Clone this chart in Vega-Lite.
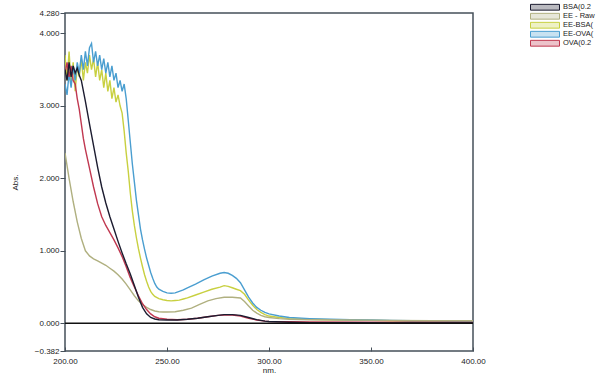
{
  "$schema": "https://vega.github.io/schema/vega-lite/v6.json",
  "width": 408,
  "height": 338,
  "autosize": {"type": "none"},
  "padding": {"left": 65, "top": 13, "right": 127, "bottom": 28},
  "background": "white",
  "config": {
    "view": {"stroke": "#46505a", "strokeWidth": 1.5},
    "font": "Liberation Sans",
    "axis": {"labelFont": "Liberation Sans", "titleFont": "Liberation Sans", "labelFontSize": 8, "titleFontSize": 8, "labelColor": "#222", "titleColor": "#222", "grid": false, "domain": false, "tickColor": "#46505a", "titleFontWeight": "normal"},
    "legend": {"labelFont": "Liberation Sans", "labelFontSize": 7.5, "labelColor": "#222"}
  },
  "datasets": {
    "spectra": [
      {"s":"EE-BSA","x":200,"y":3.7},{"s":"EE-BSA","x":201,"y":3.35},{"s":"EE-BSA","x":202,"y":3.75},{"s":"EE-BSA","x":203,"y":3.3},{"s":"EE-BSA","x":204,"y":3.6},{"s":"EE-BSA","x":205,"y":3.2},{"s":"EE-BSA","x":206,"y":3.55},{"s":"EE-BSA","x":207,"y":3.4},{"s":"EE-BSA","x":208,"y":3.65},{"s":"EE-BSA","x":209,"y":3.35},{"s":"EE-BSA","x":210,"y":3.6},{"s":"EE-BSA","x":211,"y":3.45},{"s":"EE-BSA","x":212,"y":3.7},{"s":"EE-BSA","x":213,"y":3.5},{"s":"EE-BSA","x":214,"y":3.65},{"s":"EE-BSA","x":215,"y":3.4},{"s":"EE-BSA","x":216,"y":3.6},{"s":"EE-BSA","x":217,"y":3.35},{"s":"EE-BSA","x":218,"y":3.5},{"s":"EE-BSA","x":219,"y":3.25},{"s":"EE-BSA","x":220,"y":3.45},{"s":"EE-BSA","x":221,"y":3.2},{"s":"EE-BSA","x":222,"y":3.35},{"s":"EE-BSA","x":223,"y":3.1},{"s":"EE-BSA","x":224,"y":3.25},{"s":"EE-BSA","x":225,"y":3.05},{"s":"EE-BSA","x":226,"y":3.15},{"s":"EE-BSA","x":227,"y":3.0},{"s":"EE-BSA","x":228,"y":2.9},{"s":"EE-BSA","x":229,"y":2.65},{"s":"EE-BSA","x":230,"y":2.35},{"s":"EE-BSA","x":231,"y":2.1},{"s":"EE-BSA","x":232,"y":1.8},{"s":"EE-BSA","x":233,"y":1.55},{"s":"EE-BSA","x":234,"y":1.35},{"s":"EE-BSA","x":235,"y":1.18},{"s":"EE-BSA","x":236,"y":1.03},{"s":"EE-BSA","x":237,"y":0.9},{"s":"EE-BSA","x":238,"y":0.78},{"s":"EE-BSA","x":239,"y":0.67},{"s":"EE-BSA","x":240,"y":0.58},{"s":"EE-BSA","x":241,"y":0.5},{"s":"EE-BSA","x":242,"y":0.44},{"s":"EE-BSA","x":243,"y":0.4},{"s":"EE-BSA","x":244,"y":0.37},{"s":"EE-BSA","x":246,"y":0.34},{"s":"EE-BSA","x":248,"y":0.325},{"s":"EE-BSA","x":250,"y":0.315},{"s":"EE-BSA","x":252,"y":0.31},{"s":"EE-BSA","x":254,"y":0.315},{"s":"EE-BSA","x":256,"y":0.32},{"s":"EE-BSA","x":258,"y":0.335},{"s":"EE-BSA","x":260,"y":0.35},{"s":"EE-BSA","x":264,"y":0.39},{"s":"EE-BSA","x":268,"y":0.43},{"s":"EE-BSA","x":272,"y":0.47},{"s":"EE-BSA","x":276,"y":0.5},{"s":"EE-BSA","x":278,"y":0.52},{"s":"EE-BSA","x":280,"y":0.51},{"s":"EE-BSA","x":282,"y":0.49},{"s":"EE-BSA","x":284,"y":0.47},{"s":"EE-BSA","x":286,"y":0.45},{"s":"EE-BSA","x":288,"y":0.4},{"s":"EE-BSA","x":290,"y":0.32},{"s":"EE-BSA","x":292,"y":0.25},{"s":"EE-BSA","x":294,"y":0.19},{"s":"EE-BSA","x":296,"y":0.15},{"s":"EE-BSA","x":298,"y":0.12},{"s":"EE-BSA","x":300,"y":0.1},{"s":"EE-BSA","x":305,"y":0.08},{"s":"EE-BSA","x":310,"y":0.065},{"s":"EE-BSA","x":320,"y":0.055},{"s":"EE-BSA","x":330,"y":0.05},{"s":"EE-BSA","x":340,"y":0.045},{"s":"EE-BSA","x":350,"y":0.04},{"s":"EE-BSA","x":360,"y":0.035},{"s":"EE-BSA","x":370,"y":0.032},{"s":"EE-BSA","x":380,"y":0.03},{"s":"EE-BSA","x":390,"y":0.028},{"s":"EE-BSA","x":400,"y":0.025},

      {"s":"EE-OVA","x":200,"y":3.3},{"s":"EE-OVA","x":201,"y":3.15},{"s":"EE-OVA","x":202,"y":3.45},{"s":"EE-OVA","x":203,"y":3.25},{"s":"EE-OVA","x":204,"y":3.55},{"s":"EE-OVA","x":205,"y":3.35},{"s":"EE-OVA","x":206,"y":3.6},{"s":"EE-OVA","x":207,"y":3.45},{"s":"EE-OVA","x":208,"y":3.7},{"s":"EE-OVA","x":209,"y":3.5},{"s":"EE-OVA","x":210,"y":3.75},{"s":"EE-OVA","x":211,"y":3.55},{"s":"EE-OVA","x":212,"y":3.8},{"s":"EE-OVA","x":213,"y":3.86},{"s":"EE-OVA","x":214,"y":3.6},{"s":"EE-OVA","x":215,"y":3.75},{"s":"EE-OVA","x":216,"y":3.55},{"s":"EE-OVA","x":217,"y":3.7},{"s":"EE-OVA","x":218,"y":3.5},{"s":"EE-OVA","x":219,"y":3.65},{"s":"EE-OVA","x":220,"y":3.45},{"s":"EE-OVA","x":221,"y":3.6},{"s":"EE-OVA","x":222,"y":3.4},{"s":"EE-OVA","x":223,"y":3.55},{"s":"EE-OVA","x":224,"y":3.35},{"s":"EE-OVA","x":225,"y":3.45},{"s":"EE-OVA","x":226,"y":3.25},{"s":"EE-OVA","x":227,"y":3.35},{"s":"EE-OVA","x":228,"y":3.2},{"s":"EE-OVA","x":229,"y":3.3},{"s":"EE-OVA","x":230,"y":3.1},{"s":"EE-OVA","x":231,"y":2.8},{"s":"EE-OVA","x":232,"y":2.5},{"s":"EE-OVA","x":233,"y":2.2},{"s":"EE-OVA","x":234,"y":1.95},{"s":"EE-OVA","x":235,"y":1.7},{"s":"EE-OVA","x":236,"y":1.5},{"s":"EE-OVA","x":237,"y":1.3},{"s":"EE-OVA","x":238,"y":1.15},{"s":"EE-OVA","x":239,"y":1.02},{"s":"EE-OVA","x":240,"y":0.9},{"s":"EE-OVA","x":241,"y":0.8},{"s":"EE-OVA","x":242,"y":0.7},{"s":"EE-OVA","x":243,"y":0.62},{"s":"EE-OVA","x":244,"y":0.55},{"s":"EE-OVA","x":245,"y":0.5},{"s":"EE-OVA","x":246,"y":0.47},{"s":"EE-OVA","x":248,"y":0.44},{"s":"EE-OVA","x":250,"y":0.42},{"s":"EE-OVA","x":252,"y":0.415},{"s":"EE-OVA","x":254,"y":0.42},{"s":"EE-OVA","x":256,"y":0.44},{"s":"EE-OVA","x":258,"y":0.46},{"s":"EE-OVA","x":260,"y":0.49},{"s":"EE-OVA","x":264,"y":0.54},{"s":"EE-OVA","x":268,"y":0.6},{"s":"EE-OVA","x":272,"y":0.65},{"s":"EE-OVA","x":276,"y":0.69},{"s":"EE-OVA","x":278,"y":0.7},{"s":"EE-OVA","x":280,"y":0.69},{"s":"EE-OVA","x":282,"y":0.66},{"s":"EE-OVA","x":284,"y":0.62},{"s":"EE-OVA","x":286,"y":0.56},{"s":"EE-OVA","x":288,"y":0.46},{"s":"EE-OVA","x":290,"y":0.36},{"s":"EE-OVA","x":292,"y":0.28},{"s":"EE-OVA","x":294,"y":0.22},{"s":"EE-OVA","x":296,"y":0.18},{"s":"EE-OVA","x":298,"y":0.15},{"s":"EE-OVA","x":300,"y":0.13},{"s":"EE-OVA","x":305,"y":0.1},{"s":"EE-OVA","x":310,"y":0.08},{"s":"EE-OVA","x":320,"y":0.065},{"s":"EE-OVA","x":330,"y":0.055},{"s":"EE-OVA","x":340,"y":0.05},{"s":"EE-OVA","x":350,"y":0.045},{"s":"EE-OVA","x":360,"y":0.04},{"s":"EE-OVA","x":370,"y":0.036},{"s":"EE-OVA","x":380,"y":0.034},{"s":"EE-OVA","x":390,"y":0.032},{"s":"EE-OVA","x":400,"y":0.03},

      {"s":"EE - Raw","x":200,"y":2.35},{"s":"EE - Raw","x":202,"y":2.0},{"s":"EE - Raw","x":204,"y":1.68},{"s":"EE - Raw","x":206,"y":1.4},{"s":"EE - Raw","x":208,"y":1.17},{"s":"EE - Raw","x":210,"y":1.0},{"s":"EE - Raw","x":212,"y":0.93},{"s":"EE - Raw","x":214,"y":0.89},{"s":"EE - Raw","x":216,"y":0.86},{"s":"EE - Raw","x":218,"y":0.83},{"s":"EE - Raw","x":220,"y":0.8},{"s":"EE - Raw","x":222,"y":0.76},{"s":"EE - Raw","x":224,"y":0.72},{"s":"EE - Raw","x":226,"y":0.67},{"s":"EE - Raw","x":228,"y":0.61},{"s":"EE - Raw","x":230,"y":0.54},{"s":"EE - Raw","x":232,"y":0.46},{"s":"EE - Raw","x":234,"y":0.38},{"s":"EE - Raw","x":236,"y":0.31},{"s":"EE - Raw","x":238,"y":0.26},{"s":"EE - Raw","x":240,"y":0.22},{"s":"EE - Raw","x":242,"y":0.19},{"s":"EE - Raw","x":244,"y":0.17},{"s":"EE - Raw","x":246,"y":0.16},{"s":"EE - Raw","x":248,"y":0.155},{"s":"EE - Raw","x":250,"y":0.155},{"s":"EE - Raw","x":254,"y":0.16},{"s":"EE - Raw","x":258,"y":0.18},{"s":"EE - Raw","x":262,"y":0.21},{"s":"EE - Raw","x":266,"y":0.26},{"s":"EE - Raw","x":270,"y":0.31},{"s":"EE - Raw","x":274,"y":0.34},{"s":"EE - Raw","x":278,"y":0.36},{"s":"EE - Raw","x":282,"y":0.36},{"s":"EE - Raw","x":286,"y":0.35},{"s":"EE - Raw","x":288,"y":0.3},{"s":"EE - Raw","x":290,"y":0.24},{"s":"EE - Raw","x":292,"y":0.18},{"s":"EE - Raw","x":294,"y":0.14},{"s":"EE - Raw","x":296,"y":0.11},{"s":"EE - Raw","x":298,"y":0.09},{"s":"EE - Raw","x":300,"y":0.08},{"s":"EE - Raw","x":305,"y":0.065},{"s":"EE - Raw","x":310,"y":0.055},{"s":"EE - Raw","x":320,"y":0.05},{"s":"EE - Raw","x":340,"y":0.045},{"s":"EE - Raw","x":360,"y":0.04},{"s":"EE - Raw","x":380,"y":0.035},{"s":"EE - Raw","x":400,"y":0.035},

      {"s":"OVA","x":200,"y":3.45},{"s":"OVA","x":201,"y":3.6},{"s":"OVA","x":202,"y":3.4},{"s":"OVA","x":203,"y":3.55},{"s":"OVA","x":204,"y":3.35},{"s":"OVA","x":205,"y":3.3},{"s":"OVA","x":206,"y":3.1},{"s":"OVA","x":207,"y":2.95},{"s":"OVA","x":208,"y":2.75},{"s":"OVA","x":209,"y":2.55},{"s":"OVA","x":210,"y":2.4},{"s":"OVA","x":212,"y":2.14},{"s":"OVA","x":214,"y":1.88},{"s":"OVA","x":216,"y":1.65},{"s":"OVA","x":218,"y":1.47},{"s":"OVA","x":220,"y":1.35},{"s":"OVA","x":222,"y":1.25},{"s":"OVA","x":224,"y":1.15},{"s":"OVA","x":226,"y":1.04},{"s":"OVA","x":228,"y":0.92},{"s":"OVA","x":230,"y":0.78},{"s":"OVA","x":232,"y":0.63},{"s":"OVA","x":234,"y":0.5},{"s":"OVA","x":236,"y":0.38},{"s":"OVA","x":238,"y":0.27},{"s":"OVA","x":240,"y":0.19},{"s":"OVA","x":242,"y":0.13},{"s":"OVA","x":244,"y":0.09},{"s":"OVA","x":246,"y":0.07},{"s":"OVA","x":250,"y":0.055},{"s":"OVA","x":255,"y":0.05},{"s":"OVA","x":260,"y":0.055},{"s":"OVA","x":265,"y":0.07},{"s":"OVA","x":270,"y":0.09},{"s":"OVA","x":275,"y":0.11},{"s":"OVA","x":278,"y":0.115},{"s":"OVA","x":282,"y":0.115},{"s":"OVA","x":286,"y":0.1},{"s":"OVA","x":290,"y":0.07},{"s":"OVA","x":294,"y":0.045},{"s":"OVA","x":298,"y":0.03},{"s":"OVA","x":300,"y":0.025},{"s":"OVA","x":320,"y":0.018},{"s":"OVA","x":350,"y":0.015},{"s":"OVA","x":400,"y":0.012},

      {"s":"BSA","x":200,"y":3.5},{"s":"BSA","x":201,"y":3.35},{"s":"BSA","x":202,"y":3.6},{"s":"BSA","x":203,"y":3.4},{"s":"BSA","x":204,"y":3.55},{"s":"BSA","x":205,"y":3.45},{"s":"BSA","x":206,"y":3.52},{"s":"BSA","x":207,"y":3.42},{"s":"BSA","x":208,"y":3.35},{"s":"BSA","x":210,"y":3.06},{"s":"BSA","x":212,"y":2.75},{"s":"BSA","x":214,"y":2.45},{"s":"BSA","x":216,"y":2.15},{"s":"BSA","x":218,"y":1.88},{"s":"BSA","x":220,"y":1.66},{"s":"BSA","x":222,"y":1.47},{"s":"BSA","x":224,"y":1.3},{"s":"BSA","x":226,"y":1.13},{"s":"BSA","x":228,"y":0.97},{"s":"BSA","x":230,"y":0.82},{"s":"BSA","x":232,"y":0.68},{"s":"BSA","x":234,"y":0.52},{"s":"BSA","x":236,"y":0.36},{"s":"BSA","x":238,"y":0.22},{"s":"BSA","x":240,"y":0.13},{"s":"BSA","x":242,"y":0.08},{"s":"BSA","x":244,"y":0.06},{"s":"BSA","x":246,"y":0.05},{"s":"BSA","x":250,"y":0.045},{"s":"BSA","x":255,"y":0.045},{"s":"BSA","x":260,"y":0.055},{"s":"BSA","x":265,"y":0.07},{"s":"BSA","x":270,"y":0.09},{"s":"BSA","x":275,"y":0.11},{"s":"BSA","x":278,"y":0.12},{"s":"BSA","x":282,"y":0.12},{"s":"BSA","x":286,"y":0.11},{"s":"BSA","x":290,"y":0.08},{"s":"BSA","x":294,"y":0.05},{"s":"BSA","x":298,"y":0.03},{"s":"BSA","x":300,"y":0.025},{"s":"BSA","x":310,"y":0.015},{"s":"BSA","x":320,"y":0.01},{"s":"BSA","x":340,"y":0.008},{"s":"BSA","x":360,"y":0.006},{"s":"BSA","x":380,"y":0.005},{"s":"BSA","x":400,"y":0.005}
    ],
    "zero": [{"y": 0}]
  },
  "layer": [
    {
      "data": {"name": "spectra"},
      "mark": {"type": "line", "strokeWidth": 1.4, "clip": true},
      "encoding": {
        "x": {"field": "x", "type": "quantitative", "scale": {"domain": [200, 400], "nice": false, "zero": false},
          "axis": {"title": "nm.", "values": [200, 250, 300, 350, 400], "format": ".2f", "tickSize": -4, "labelPadding": 10, "titlePadding": 1, "labelFlush": false}},
        "y": {"field": "y", "type": "quantitative", "scale": {"domain": [-0.382, 4.28], "nice": false, "zero": false},
          "axis": {"title": "Abs.", "values": [-0.382, 0, 1, 2, 3, 4, 4.28], "format": ".3f", "tickSize": 5, "labelPadding": 1, "titlePadding": 15}},
        "color": {"field": "s", "type": "nominal",
          "scale": {"domain": ["BSA", "EE - Raw", "EE-BSA", "EE-OVA", "OVA"], "range": ["#1c1c30", "#b0b080", "#c8d040", "#4a9ed0", "#c03850"]},
          "legend": {"title": null, "orient": "none", "legendX": 465, "legendY": -10,
            "labelExpr": "datum.label == 'BSA' ? 'BSA(0.2' : datum.label == 'EE - Raw' ? 'EE - Raw' : datum.label == 'EE-BSA' ? 'EE-BSA(' : datum.label == 'EE-OVA' ? 'EE-OVA(' : 'OVA(0.2'",
            "symbolType": "M-1,-0.2H1V0.2H-1Z", "symbolSize": 841, "symbolStrokeWidth": 1, "rowPadding": 0, "clipHeight": 8.5, "labelOffset": 3, "labelLimit": 0,
            "encode": {"symbols": {"update": {"fill": {"scale": "color", "field": "value"}, "fillOpacity": {"value": 0.3}, "stroke": {"value": "#333"}}}}},
          "sort": null
        },
        "order": {"value": 0}
      }
    },
    {
      "data": {"name": "zero"},
      "mark": {"type": "rule", "color": "#111", "strokeWidth": 1.5},
      "encoding": {"y": {"field": "y", "type": "quantitative"}}
    }
  ]
}
